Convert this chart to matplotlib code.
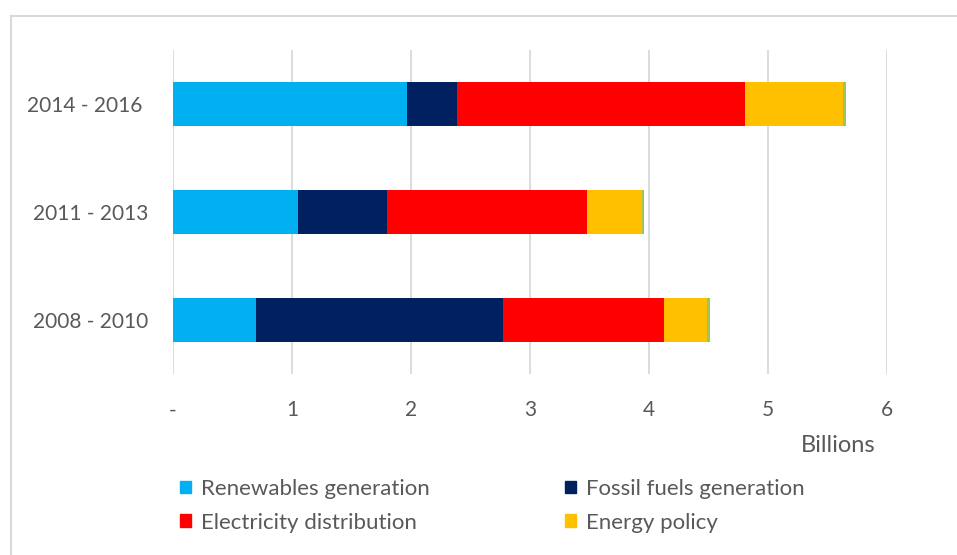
import matplotlib
matplotlib.use("Agg")
import matplotlib.pyplot as plt
from matplotlib.lines import Line2D
from matplotlib.patches import Patch
import numpy as np

# data (billions), bottom category first
periods = ["2008 - 2010", "2011 - 2013", "2014 - 2016 "]
renewables = [0.70, 1.05, 1.97]
fossil = [2.07, 0.75, 0.42]
distribution = [1.36, 1.68, 2.42]
policy = [0.36, 0.46, 0.82]
other = [0.02, 0.015, 0.025]

series_names = ["Renewables generation", "Fossil fuels generation",
                "Electricity distribution", "Energy policy", "Other"]
series_vals = [renewables, fossil, distribution, policy, other]
colors = ["#00B0F0", "#002060", "#FF0000", "#FFC000", "#9DC35E"]

xticks = [0, 1, 2, 3, 4, 5, 6]
xtick_labels = ["-", "1", "2", "3", "4", "5", "6"]

plt.rcParams["font.family"] = ["Lato", "DejaVu Sans"]
text_color = "#595959"
grid_color = "#D9D9D9"

fig = plt.figure(figsize=(9.57, 5.55), dpi=100)
ax = fig.add_axes([173 / 957, 1 - 374 / 555, 714 / 957, 324 / 555])

y = np.arange(len(periods))
left = np.zeros(len(periods))
handles = []
for name, vals, c in zip(series_names, series_vals, colors):
    ax.barh(y, vals, left=left, height=0.4, color=c, zorder=3)
    left += np.array(vals)
    handles.append(Patch(color=c, label=name))

ax.set_xlim(0, 6)
ax.set_ylim(-0.5, len(periods) - 0.5)
ax.set_xticks(xticks)
ax.set_xticklabels(xtick_labels)
ax.set_yticks(y)
ax.set_yticklabels(periods)
ax.tick_params(axis="both", length=0, labelsize=15, colors=text_color)
ax.tick_params(axis="y", pad=18)
ax.tick_params(axis="x", pad=19)
ax.grid(axis="x", color=grid_color, linewidth=1.3, zorder=0)
for s in ax.spines.values():
    s.set_visible(False)

fig.text(838 / 957, 1 - 445 / 555, "Billions", ha="center", va="center",
         fontsize=17, color=text_color)

# legend, row-wise order (the thin green series is not listed)
order = [0, 2, 1, 3]
leg = fig.legend([handles[i] for i in order], [series_names[i] for i in order],
                 ncol=2, loc="upper left", bbox_to_anchor=(171 / 957, 1 - 470 / 555),
                 frameon=False, fontsize=16, labelcolor=text_color,
                 handlelength=0.5, handleheight=0.5, handletextpad=0.45,
                 columnspacing=6.1, labelspacing=0.62, borderaxespad=0)

# outer chart frame
fig.add_artist(Line2D([10.5 / 957, 10.5 / 957], [0, 1 - 16 / 555], color=grid_color,
                      linewidth=1.5, transform=fig.transFigure))
fig.add_artist(Line2D([10.5 / 957, 1], [1 - 16 / 555, 1 - 16 / 555], color=grid_color,
                      linewidth=1.5, transform=fig.transFigure))

fig.savefig("out.png", dpi=100)
plt.close(fig)
